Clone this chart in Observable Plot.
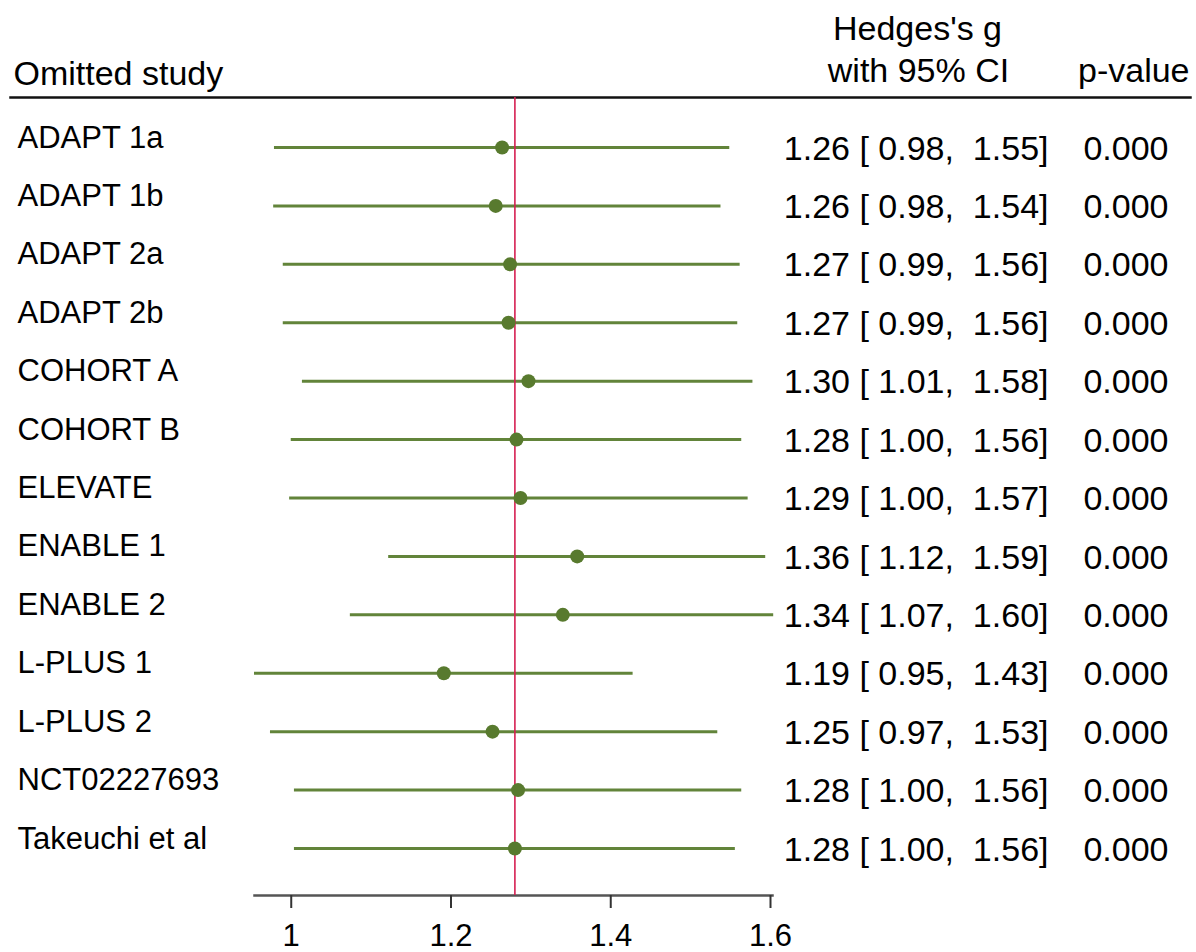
<!DOCTYPE html>
<html>
<head>
<meta charset="utf-8">
<script src="https://cdn.jsdelivr.net/npm/d3@7"></script>
<script src="https://cdn.jsdelivr.net/npm/@observablehq/plot@0.6"></script>
<style>
  html, body { margin: 0; padding: 0; background: #fff; overflow: hidden; }
  svg text { white-space: pre; }
</style>
</head>
<body>
<div id="chart"></div>
<script>
// ---- data ----
const studies = ["ADAPT 1a", "ADAPT 1b", "ADAPT 2a", "ADAPT 2b", "COHORT A", "COHORT B", "ELEVATE",
                 "ENABLE 1", "ENABLE 2", "L-PLUS 1", "L-PLUS 2", "NCT02227693", "Takeuchi et al"];
const effect  = [1.264, 1.256, 1.274, 1.272, 1.297, 1.282, 1.287, 1.358, 1.340, 1.191, 1.252, 1.284, 1.280];
const ciLow   = [0.979, 0.978, 0.990, 0.990, 1.014, 1.000, 0.998, 1.122, 1.074, 0.954, 0.974, 1.004, 1.004];
const ciHigh  = [1.549, 1.538, 1.562, 1.559, 1.578, 1.564, 1.572, 1.594, 1.604, 1.428, 1.534, 1.564, 1.556];
const pValue  = [0, 0, 0, 0, 0, 0, 0, 0, 0, 0, 0, 0, 0];
const overall = 1.28;
const xTicks  = [1, 1.2, 1.4, 1.6];
const headers = {study: "Omitted study", effect1: "Hedges's g", effect2: "with 95% CI", p: "p-value"};

const rows = studies.map((s, i) => ({study: s, es: effect[i], lo: ciLow[i], hi: ciHigh[i], p: pValue[i]}));

const green = "#62843a", dotGreen = "#587a2e", red = "#d61f52";
const font = "'Liberation Sans', Arial, Helvetica, sans-serif";

const chart = Plot.plot({
  width: 1196,
  height: 952,
  marginLeft: 254,
  marginRight: 426,
  marginTop: 97,
  marginBottom: 57,
  style: {fontFamily: font, fontSize: "30px", background: "#fff", color: "#000"},
  x: {domain: [0.954, 1.6]},
  y: {type: "point", domain: studies, padding: 0, round: false, insetTop: 50, insetBottom: 47, axis: null},
  marks: [
    // top header rule
    Plot.frame({anchor: "top", stroke: "#111", strokeWidth: 2.5, insetLeft: -244, insetRight: -420}),
    // axis line
    Plot.frame({anchor: "bottom", stroke: "#555", strokeWidth: 2.5, insetRight: -2}),
    Plot.axisX({ticks: xTicks, tickFormat: d => String(d), tickSize: 13, tickPadding: 15,
                fontSize: 31, stroke: "#333", strokeWidth: 2, fill: "#000"}),
    // CI lines
    Plot.ruleY(rows, {x1: "lo", x2: "hi", y: "study", stroke: green, strokeWidth: 3}),
    // overall effect
    Plot.ruleX([overall], {stroke: red, strokeWidth: 1.6}),
    // point estimates
    Plot.dot(rows, {x: "es", y: "study", r: 7, fill: dotGreen, stroke: "none"}),
    // study labels
    Plot.text(rows, {y: "study", text: "study", frameAnchor: "left", textAnchor: "start",
                     lineAnchor: "top", dx: -237, dy: -22, fontSize: 31, fill: "#000"}),
    // effect + CI text
    Plot.text(rows, {y: "study",
                     text: d => `${d.es.toFixed(2)} [ ${d.lo.toFixed(2)},  ${d.hi.toFixed(2)}]`,
                     frameAnchor: "right", textAnchor: "end", lineAnchor: "top",
                     dx: 278, dy: -12, fontSize: 34, fill: "#000"}),
    // p-values
    Plot.text(rows, {y: "study", text: d => d.p.toFixed(3),
                     frameAnchor: "right", textAnchor: "end", lineAnchor: "top",
                     dx: 398, dy: -12, fontSize: 34, fill: "#000"}),
    // headers
    Plot.text([headers.study], {frameAnchor: "top-left", textAnchor: "start", lineAnchor: "top",
                     dx: -241, dy: -37, fontSize: 34, fill: "#000"}),
    Plot.text([headers.effect1], {frameAnchor: "top-right", textAnchor: "middle", lineAnchor: "top",
                     dx: 147, dy: -82, fontSize: 34, fill: "#000"}),
    Plot.text([headers.effect2], {frameAnchor: "top-right", textAnchor: "middle", lineAnchor: "top",
                     dx: 148, dy: -40, fontSize: 34, fill: "#000"}),
    Plot.text([headers.p], {frameAnchor: "top-right", textAnchor: "end", lineAnchor: "top",
                     dx: 419, dy: -40, fontSize: 34, fill: "#000"})
  ]
});

document.getElementById("chart").appendChild(chart);
</script>
</body>
</html>
